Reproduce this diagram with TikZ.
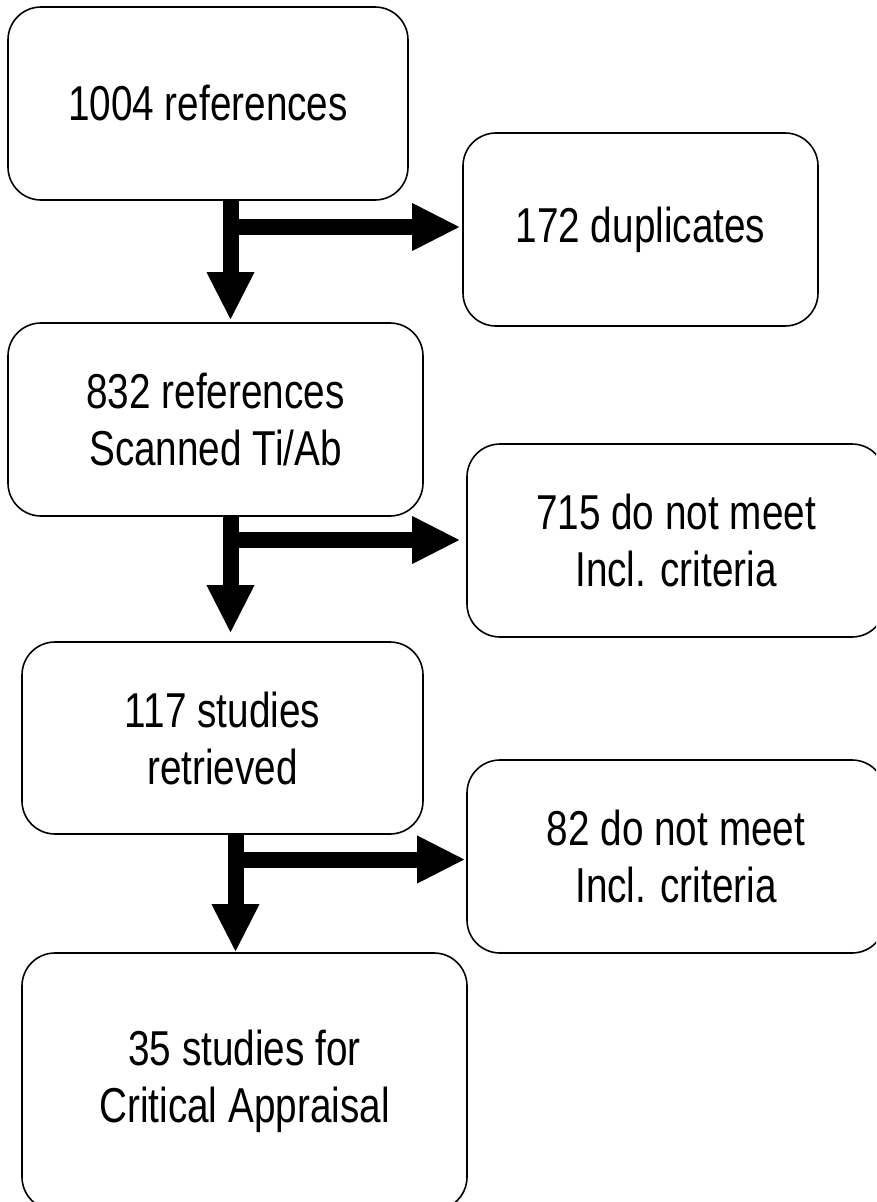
\documentclass[tikz,border=0pt]{standalone}
\usepackage{fontspec}
\newfontfamily\boxfont[FakeStretch=0.79]{Liberation Sans}
\usetikzlibrary{arrows.meta,calc}
\tikzset{
  stage/.style={draw, line width=1.6pt, rounded corners=33pt, align=center,
    inner sep=0pt, font=\boxfont\fontsize{49}{57}\selectfont},
  flow/.style={line width=16pt,
    -{Triangle[width=48pt,length=47pt,line width=0pt]}},
}
\begin{document}
\begin{tikzpicture}[x=1pt,y=-1pt]
\path[use as bounding box] (0,0) rectangle (876,1202);
\clip (0,0) rectangle (876,1202);

% stages of the screening
\node[stage, minimum width=400pt, minimum height=193pt] (b1) at (208,103.5) {1004 references};
\node[stage, minimum width=355pt, minimum height=193pt] (b2) at (640.5,229.5) {172 duplicates};
\node[stage, minimum width=415pt, minimum height=193pt] (b3) at (215.5,419.5) {832 references\\Scanned Ti/Ab};
\node[stage, minimum width=418pt, minimum height=193pt] (b4) at (676,540.5) {715 do not meet\\Incl. criteria};
\node[stage, minimum width=401pt, minimum height=192pt] (b5) at (222.5,738) {117 studies\\retrieved};
\node[stage, minimum width=418pt, minimum height=193pt] (b6) at (676,856.5) {82 do not meet\\Incl. criteria};
\node[stage, minimum width=445pt, minimum height=257pt] (b7) at (244.5,1081.5) {35 studies for\\Critical Appraisal};

% branch points of the block arrows
\coordinate (j1) at (230.5,227);
\coordinate (j2) at (230.5,540);
\coordinate (j3) at (235.5,859.5);

\draw[flow] (b1.south -| j1) -- ($(b3.north -| j1)+(0,-3)$);
\draw[flow] (j1) -- ($(b2.west |- j1)+(-3,0)$);

\draw[flow] (b3.south -| j2) -- ($(b5.north -| j2)+(0,-9)$);
\draw[flow] (j2) -- ($(b4.west |- j2)+(-7,0)$);

\draw[flow] (b5.south -| j3) -- ($(b7.north -| j3)+(0,-1)$);
\draw[flow] (j3) -- ($(b6.west |- j3)+(-2,0)$);
\end{tikzpicture}
\end{document}
